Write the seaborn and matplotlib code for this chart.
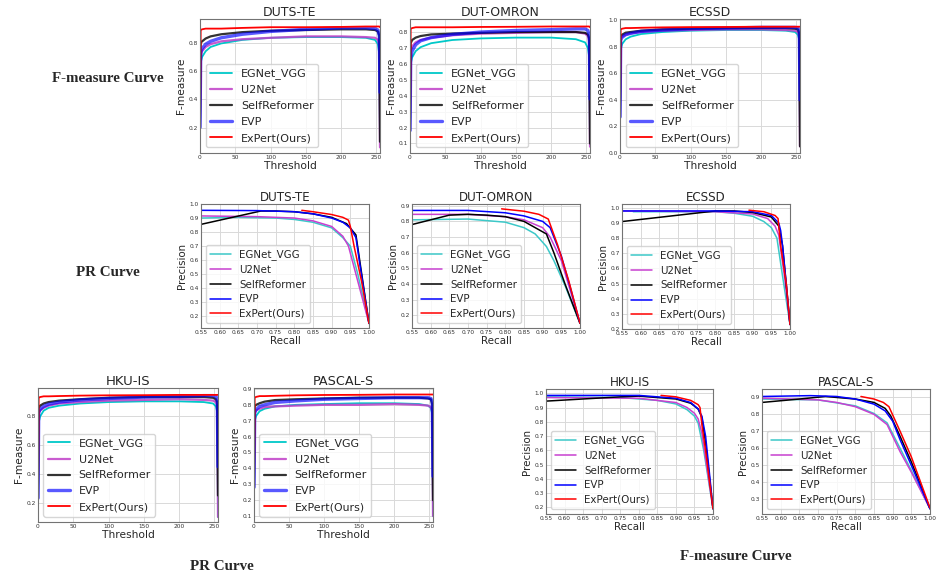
import matplotlib
matplotlib.use("Agg")
import matplotlib.pyplot as plt
import seaborn as sns
import pandas as pd
from matplotlib.ticker import MultipleLocator, FormatStrFormatter

# ---------------- data ----------------
METHODS = ["EGNet_VGG", "U2Net", "SelfReformer", "EVP", "ExPert(Ours)"]
THRESH = [0, 1, 3, 8, 15, 30, 60, 100, 150, 200, 235, 248, 252, 254, 255]

F_DUTS = {
    "EGNet_VGG":    [0.20, 0.66, 0.70, 0.74, 0.77, 0.795, 0.82, 0.835, 0.84, 0.84, 0.835, 0.82, 0.79, 0.72, 0.10],
    "U2Net":        [0.20, 0.70, 0.74, 0.77, 0.79, 0.81, 0.825, 0.835, 0.845, 0.845, 0.84, 0.835, 0.82, 0.78, 0.06],
    "SelfReformer": [0.20, 0.80, 0.81, 0.83, 0.845, 0.86, 0.875, 0.885, 0.89, 0.895, 0.895, 0.89, 0.88, 0.85, 0.10],
    "EVP":          [0.20, 0.73, 0.76, 0.79, 0.81, 0.835, 0.86, 0.88, 0.895, 0.905, 0.905, 0.90, 0.89, 0.85, 0.45],
    "ExPert(Ours)": [0.17, 0.89, 0.895, 0.90, 0.90, 0.90, 0.905, 0.91, 0.91, 0.912, 0.915, 0.915, 0.915, 0.915, 0.91],
}
F_DUTOMRON = {
    "EGNet_VGG":    [0.18, 0.60, 0.64, 0.68, 0.705, 0.73, 0.75, 0.76, 0.765, 0.765, 0.755, 0.735, 0.70, 0.64, 0.10],
    "U2Net":        [0.18, 0.68, 0.71, 0.735, 0.75, 0.765, 0.78, 0.79, 0.795, 0.80, 0.80, 0.79, 0.775, 0.74, 0.08],
    "SelfReformer": [0.18, 0.73, 0.75, 0.765, 0.775, 0.785, 0.79, 0.795, 0.80, 0.80, 0.80, 0.795, 0.785, 0.76, 0.10],
    "EVP":          [0.18, 0.64, 0.68, 0.72, 0.745, 0.765, 0.785, 0.80, 0.81, 0.815, 0.82, 0.82, 0.81, 0.78, 0.38],
    "ExPert(Ours)": [0.18, 0.82, 0.825, 0.83, 0.83, 0.83, 0.83, 0.832, 0.833, 0.835, 0.835, 0.835, 0.835, 0.835, 0.83],
}
F_ECSSD = {
    "EGNet_VGG":    [0.27, 0.78, 0.82, 0.855, 0.875, 0.895, 0.91, 0.92, 0.925, 0.925, 0.92, 0.91, 0.89, 0.85, 0.10],
    "U2Net":        [0.27, 0.86, 0.875, 0.89, 0.90, 0.91, 0.92, 0.925, 0.93, 0.93, 0.925, 0.92, 0.91, 0.88, 0.05],
    "SelfReformer": [0.27, 0.88, 0.89, 0.905, 0.91, 0.92, 0.93, 0.935, 0.94, 0.94, 0.94, 0.935, 0.93, 0.90, 0.05],
    "EVP":          [0.27, 0.85, 0.87, 0.89, 0.90, 0.915, 0.925, 0.935, 0.94, 0.945, 0.945, 0.945, 0.94, 0.92, 0.40],
    "ExPert(Ours)": [0.27, 0.93, 0.935, 0.94, 0.94, 0.942, 0.945, 0.947, 0.948, 0.95, 0.95, 0.95, 0.95, 0.95, 0.95],
}
F_HKU = {
    "EGNet_VGG":    [0.23, 0.76, 0.80, 0.84, 0.86, 0.875, 0.89, 0.90, 0.905, 0.905, 0.90, 0.89, 0.87, 0.83, 0.10],
    "U2Net":        [0.23, 0.82, 0.84, 0.86, 0.875, 0.89, 0.90, 0.91, 0.915, 0.92, 0.915, 0.91, 0.90, 0.87, 0.10],
    "SelfReformer": [0.23, 0.86, 0.875, 0.89, 0.90, 0.91, 0.92, 0.93, 0.935, 0.935, 0.935, 0.93, 0.92, 0.90, 0.25],
    "EVP":          [0.23, 0.83, 0.85, 0.87, 0.885, 0.90, 0.915, 0.925, 0.935, 0.94, 0.945, 0.945, 0.94, 0.92, 0.45],
    "ExPert(Ours)": [0.23, 0.93, 0.935, 0.94, 0.94, 0.942, 0.945, 0.947, 0.948, 0.95, 0.95, 0.95, 0.95, 0.95, 0.95],
}
F_PASCAL = {
    "EGNet_VGG":    [0.28, 0.70, 0.73, 0.76, 0.775, 0.79, 0.80, 0.805, 0.81, 0.81, 0.805, 0.795, 0.78, 0.74, 0.10],
    "U2Net":        [0.28, 0.75, 0.765, 0.775, 0.785, 0.79, 0.795, 0.80, 0.80, 0.805, 0.80, 0.795, 0.785, 0.76, 0.10],
    "SelfReformer": [0.28, 0.79, 0.80, 0.81, 0.82, 0.83, 0.835, 0.84, 0.845, 0.845, 0.845, 0.84, 0.835, 0.80, 0.20],
    "EVP":          [0.28, 0.75, 0.77, 0.79, 0.80, 0.815, 0.825, 0.835, 0.84, 0.845, 0.845, 0.845, 0.84, 0.82, 0.35],
    "ExPert(Ours)": [0.28, 0.845, 0.85, 0.855, 0.855, 0.857, 0.86, 0.862, 0.863, 0.865, 0.865, 0.865, 0.865, 0.865, 0.865],
}

# PR curves: (recall list, precision list)
PR_DUTS = {
    "EGNet_VGG":    ([0.55, 0.65, 0.75, 0.80, 0.85, 0.90, 0.93, 0.95, 0.97, 1.00],
                     [0.90, 0.905, 0.90, 0.89, 0.87, 0.83, 0.76, 0.70, 0.50, 0.15]),
    "U2Net":        ([0.55, 0.70, 0.80, 0.85, 0.90, 0.93, 0.945, 1.00],
                     [0.915, 0.91, 0.90, 0.88, 0.84, 0.77, 0.70, 0.15]),
    "SelfReformer": ([0.55, 0.71, 0.75, 0.80, 0.85, 0.90, 0.94, 0.965, 0.975, 1.00],
                     [0.855, 0.95, 0.95, 0.945, 0.93, 0.905, 0.86, 0.78, 0.60, 0.15]),
    "EVP":          ([0.55, 0.70, 0.80, 0.85, 0.90, 0.93, 0.95, 0.965, 0.975, 1.00],
                     [0.955, 0.953, 0.945, 0.93, 0.90, 0.87, 0.83, 0.76, 0.58, 0.15]),
    "ExPert(Ours)": ([0.82, 0.85, 0.90, 0.93, 0.945, 0.95, 0.96, 0.98, 1.00],
                     [0.955, 0.945, 0.925, 0.905, 0.885, 0.84, 0.70, 0.45, 0.15]),
}
PR_DUTOMRON = {
    "EGNet_VGG":    ([0.55, 0.70, 0.80, 0.85, 0.88, 0.91, 0.93, 0.96, 1.00],
                     [0.81, 0.815, 0.795, 0.76, 0.72, 0.64, 0.55, 0.39, 0.15]),
    "U2Net":        ([0.55, 0.70, 0.80, 0.85, 0.90, 0.92, 0.95, 1.00],
                     [0.845, 0.845, 0.83, 0.81, 0.76, 0.70, 0.55, 0.15]),
    "SelfReformer": ([0.55, 0.65, 0.70, 0.75, 0.80, 0.85, 0.91, 0.93, 0.96, 1.00],
                     [0.78, 0.84, 0.845, 0.84, 0.83, 0.80, 0.72, 0.60, 0.40, 0.15]),
    "EVP":          ([0.55, 0.70, 0.80, 0.85, 0.90, 0.92, 0.95, 0.975, 1.00],
                     [0.87, 0.87, 0.855, 0.835, 0.80, 0.76, 0.58, 0.37, 0.15]),
    "ExPert(Ours)": ([0.79, 0.85, 0.89, 0.915, 0.94, 0.97, 1.00],
                     [0.88, 0.865, 0.845, 0.815, 0.65, 0.42, 0.15]),
}
PR_ECSSD = {
    "EGNet_VGG":    ([0.58, 0.80, 0.85, 0.90, 0.93, 0.95, 0.965, 0.98, 1.00],
                     [0.975, 0.975, 0.965, 0.945, 0.91, 0.87, 0.80, 0.55, 0.23]),
    "U2Net":        ([0.55, 0.80, 0.90, 0.94, 0.96, 0.97, 0.985, 1.00],
                     [0.98, 0.975, 0.96, 0.93, 0.88, 0.82, 0.55, 0.23]),
    "SelfReformer": ([0.55, 0.80, 0.85, 0.90, 0.95, 0.97, 0.98, 1.00],
                     [0.91, 0.98, 0.98, 0.97, 0.94, 0.88, 0.75, 0.23]),
    "EVP":          ([0.55, 0.80, 0.90, 0.95, 0.97, 0.975, 0.98, 0.99, 1.00],
                     [0.98, 0.98, 0.975, 0.95, 0.90, 0.85, 0.75, 0.50, 0.23]),
    "ExPert(Ours)": ([0.89, 0.93, 0.96, 0.968, 0.975, 0.99, 1.00],
                     [0.985, 0.975, 0.95, 0.93, 0.75, 0.50, 0.23]),
}
PR_HKU = {
    "EGNet_VGG":    ([0.55, 0.75, 0.85, 0.90, 0.93, 0.95, 0.96, 0.975, 1.00],
                     [0.975, 0.97, 0.95, 0.925, 0.885, 0.84, 0.79, 0.60, 0.19]),
    "U2Net":        ([0.55, 0.80, 0.90, 0.93, 0.95, 0.96, 0.97, 1.00],
                     [0.97, 0.965, 0.935, 0.90, 0.86, 0.82, 0.72, 0.19]),
    "SelfReformer": ([0.55, 0.75, 0.80, 0.90, 0.94, 0.96, 0.97, 0.98, 1.00],
                     [0.945, 0.975, 0.98, 0.96, 0.93, 0.89, 0.83, 0.65, 0.19]),
    "EVP":          ([0.55, 0.80, 0.90, 0.94, 0.96, 0.97, 0.98, 0.99, 1.00],
                     [0.985, 0.985, 0.965, 0.935, 0.89, 0.84, 0.70, 0.45, 0.19]),
    "ExPert(Ours)": ([0.86, 0.90, 0.94, 0.96, 0.965, 0.97, 0.98, 1.00],
                     [0.985, 0.975, 0.95, 0.92, 0.90, 0.78, 0.60, 0.19]),
}
PR_PASCAL = {
    "EGNet_VGG":    ([0.55, 0.70, 0.80, 0.85, 0.885, 0.92, 0.95, 1.00],
                     [0.89, 0.885, 0.85, 0.805, 0.75, 0.60, 0.47, 0.245]),
    "U2Net":        ([0.55, 0.70, 0.75, 0.80, 0.85, 0.885, 0.92, 0.95, 1.00],
                     [0.895, 0.885, 0.87, 0.845, 0.80, 0.74, 0.58, 0.46, 0.245]),
    "SelfReformer": ([0.55, 0.65, 0.72, 0.80, 0.85, 0.88, 0.895, 0.92, 0.95, 1.00],
                     [0.87, 0.89, 0.905, 0.89, 0.87, 0.835, 0.79, 0.67, 0.52, 0.245]),
    "EVP":          ([0.55, 0.68, 0.75, 0.80, 0.85, 0.88, 0.90, 0.92, 0.95, 1.00],
                     [0.905, 0.91, 0.905, 0.89, 0.86, 0.82, 0.76, 0.65, 0.50, 0.245]),
    "ExPert(Ours)": ([0.815, 0.85, 0.875, 0.89, 0.92, 0.95, 1.00],
                     [0.905, 0.89, 0.87, 0.845, 0.70, 0.55, 0.25]),
}

# ---------------- style ----------------
sns.set_theme(style="whitegrid")
plt.rcParams['font.family'] = ['DejaVu Sans']
plt.rcParams.update({
    "axes.edgecolor": "0.45",
    "axes.linewidth": 0.8,
    "grid.color": "0.85",
    "grid.linewidth": 0.7,
    "xtick.color": "0.2",
    "ytick.color": "0.2",
})

F_STYLE = {
    "EGNet_VGG":    dict(color="#00c8c8", lw=1.3, alpha=1.0),
    "U2Net":        dict(color="#c03fc8", lw=1.6, alpha=0.85),
    "SelfReformer": dict(color="black", lw=1.6, alpha=0.8),
    "EVP":          dict(color="blue", lw=2.4, alpha=0.65),
    "ExPert(Ours)": dict(color="red", lw=1.3, alpha=1.0),
}
PR_STYLE = {
    "EGNet_VGG":    dict(color="#3cc8c8", lw=1.1, alpha=1.0),
    "U2Net":        dict(color="#c840d0", lw=1.1, alpha=1.0),
    "SelfReformer": dict(color="black", lw=1.1, alpha=1.0),
    "EVP":          dict(color="blue", lw=1.1, alpha=1.0),
    "ExPert(Ours)": dict(color="red", lw=1.1, alpha=1.0),
}

W, H = 936, 575
fig = plt.figure(figsize=(W / 100, H / 100), dpi=100)


def add_ax(x0, y0, x1, y1):
    return fig.add_axes([x0 / W, 1 - y1 / H, (x1 - x0) / W, (y1 - y0) / H])


def f_plot(rect, title, data, ylim, ystep, title_fs=9.0, leg_fs=8.0):
    ax = add_ax(*rect)
    for m in METHODS:
        df = pd.DataFrame({"t": THRESH, "f": data[m]})
        sns.lineplot(data=df, x="t", y="f", ax=ax, label=m, sort=False,
                     estimator=None, **F_STYLE[m])
    ax.set_xlim(0, 255)
    ax.set_ylim(*ylim)
    ax.xaxis.set_major_locator(MultipleLocator(50))
    ax.yaxis.set_major_locator(MultipleLocator(ystep))
    ax.yaxis.set_major_formatter(FormatStrFormatter("%.1f"))
    ax.tick_params(labelsize=4.2, pad=1.5, length=0)
    ax.set_xlabel("Threshold", fontsize=7.7, labelpad=0.5)
    ax.set_ylabel("F-measure", fontsize=7.7, labelpad=1.5)
    ax.set_title(title, fontsize=title_fs, pad=2.5)
    ax.legend(loc="lower left", fontsize=leg_fs, frameon=True, framealpha=0.8,
              edgecolor="0.8", borderaxespad=0.5, handlelength=2.0,
              labelspacing=0.53)
    return ax


def pr_plot(rect, title, data, ylim, ymin_tick, ymax_tick, title_fs=8.6, leg_fs=7.4):
    ax = add_ax(*rect)
    for m in METHODS:
        r, p = data[m]
        df = pd.DataFrame({"r": r, "p": p})
        sns.lineplot(data=df, x="r", y="p", ax=ax, label=m, sort=False,
                     estimator=None, **PR_STYLE[m])
    ax.set_xlim(0.55, 1.0)
    ax.set_ylim(*ylim)
    ax.set_xticks([0.55 + 0.05 * i for i in range(10)])
    n = int(round((ymax_tick - ymin_tick) / 0.1)) + 1
    ax.set_yticks([ymin_tick + 0.1 * i for i in range(n)])
    ax.xaxis.set_major_formatter(FormatStrFormatter("%.2f"))
    ax.yaxis.set_major_formatter(FormatStrFormatter("%.1f"))
    ax.tick_params(labelsize=4.2, pad=1.5, length=0)
    ax.set_xlabel("Recall", fontsize=7.4, labelpad=0.5)
    ax.set_ylabel("Precision", fontsize=7.4, labelpad=1.5)
    ax.set_title(title, fontsize=title_fs, pad=2.5)
    ax.legend(loc="lower left", fontsize=leg_fs, frameon=True, framealpha=0.8,
              edgecolor="0.8", borderaxespad=0.5, handlelength=2.0,
              labelspacing=0.45)
    return ax


# Row 1: F-measure curves
f_plot((200, 19, 380, 153), "DUTS-TE", F_DUTS, (0.02, 0.968), 0.2)
f_plot((410, 19, 590, 153), "DUT-OMRON", F_DUTOMRON, (0.04, 0.882), 0.1)
f_plot((620, 19, 800, 153), "ECSSD", F_ECSSD, (0.0, 1.008), 0.2)

# Row 2: PR curves
pr_plot((201, 204, 369, 328), "DUTS-TE", PR_DUTS, (0.117, 1.0), 0.2, 1.0)
pr_plot((412, 204, 580, 328), "DUT-OMRON", PR_DUTOMRON, (0.12, 0.911), 0.2, 0.9)
pr_plot((622, 204, 790, 329), "ECSSD", PR_ECSSD, (0.2, 1.026), 0.2, 1.0)

# Row 3
f_plot((38, 388, 218, 522), "HKU-IS", F_HKU, (0.065, 0.998), 0.2, title_fs=9.5, leg_fs=7.9)
f_plot((254, 388, 433, 522), "PASCAL-S", F_PASCAL, (0.062, 0.906), 0.1, title_fs=9.2, leg_fs=7.9)
pr_plot((546, 389, 713, 514), "HKU-IS", PR_HKU, (0.153, 1.03), 0.2, 1.0)
pr_plot((762, 389, 930, 514), "PASCAL-S", PR_PASCAL, (0.214, 0.949), 0.3, 0.9)

# Row labels
lab = dict(fontsize=10.8, fontweight="bold", family=["Liberation Serif", "DejaVu Serif"],
           ha="center", va="center")
fig.text(108 / W, 1 - 79 / H, "F-measure Curve", **lab)
fig.text(108 / W, 1 - 272 / H, "PR Curve", **lab)
fig.text(222 / W, 1 - 566 / H, "PR Curve", **lab)
fig.text(736 / W, 1 - 556 / H, "F-measure Curve", **lab)

fig.savefig("out.png", dpi=100, facecolor="white")
